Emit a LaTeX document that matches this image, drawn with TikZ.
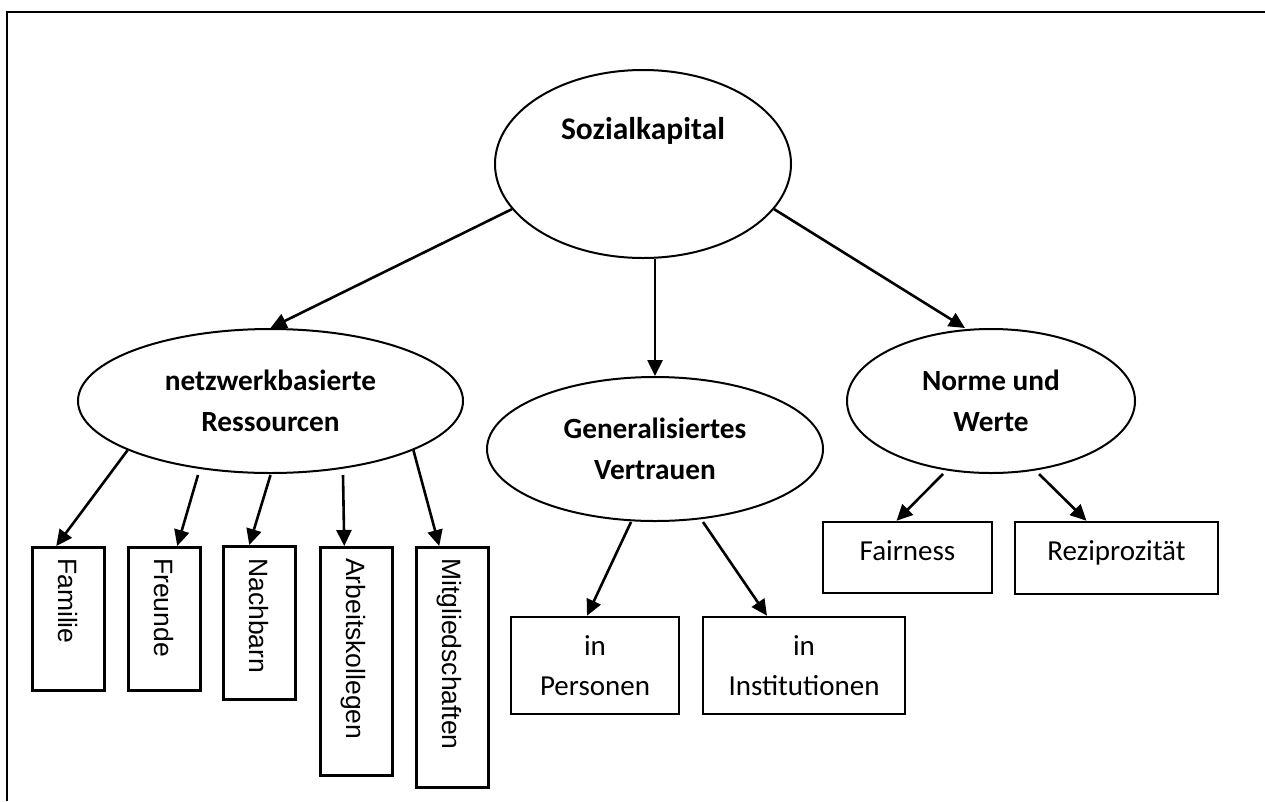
\documentclass[tikz,border=0pt]{standalone}
\usepackage{fontspec}
\setmainfont{Carlito}
\newfontfamily\rotfont{Liberation Sans}
\usetikzlibrary{shapes.geometric,arrows.meta,calc}
\begin{document}
\begin{tikzpicture}[x=1pt,y=-1pt,
  oval/.style={ellipse,draw,line width=2pt,inner sep=0pt,align=center,
    font=\bfseries\fontsize{29.3}{40.5}\selectfont},
  vbox/.style={draw,line width=2.5pt,inner sep=0pt,minimum width=72pt,anchor=north west},
  vtext/.style={rotate=-90,anchor=mid west,inner sep=0pt,font=\rotfont\fontsize{26.5}{30}\selectfont},
  hbox/.style={draw,line width=2.5pt,inner sep=0pt,align=center,
    font=\fontsize{29}{40}\selectfont},
  htext/.style={anchor=base,inner sep=0pt,font=\fontsize{29}{40}\selectfont},
  arr/.style={-{Triangle[length=16pt,width=15pt]},line width=2.6pt}]
\useasboundingbox (0,0) rectangle (1265,801);
% frame
\draw[line width=2.8pt] (7,801) -- (7,12) -- (1265,12);
% ellipses
\node[oval,minimum width=296pt,minimum height=188pt] (sk) at (643,164) {};
\node[anchor=base,inner sep=0pt,font=\bfseries\fontsize{31.5}{38}\selectfont] (skt) at (643,139) {Sozialkapital};
\node[oval,minimum width=385pt,minimum height=144pt] (net) at (270.5,401) {netzwerkbasierte\\Ressourcen};
\node[oval,minimum width=336pt,minimum height=144pt] (gv) at (655,449) {Generalisiertes\\Vertrauen};
\node[oval,minimum width=288pt,minimum height=144pt] (nw) at (991,401) {Norme und\\Werte};
% vertical boxes
\node[vbox,minimum height=143pt] (fam) at (31,546) {};
\node[vbox,minimum height=143pt] (fre) at (127,546) {};
\node[vbox,minimum height=153pt] (nach) at (222,545) {};
\node[vbox,minimum height=228pt] (arb) at (319,546) {};
\node[vbox,minimum height=240pt] (mit) at (415,546) {};
\node[vtext] (famt) at ([xshift=-7pt,yshift=-12pt]fam.north) {Familie};
\node[vtext] (fret) at ([xshift=-7pt,yshift=-12pt]fre.north) {Freunde};
\node[vtext] (nacht) at ([xshift=-7pt,yshift=-13pt]nach.north) {Nachbarn};
\node[vtext] (arbt) at ([xshift=-7pt,yshift=-12pt]arb.north) {Arbeitskollegen};
\node[vtext] (mitt) at ([xshift=-7pt,yshift=-12pt]mit.north) {Mitgliedschaften};
% horizontal boxes
\node[hbox,minimum width=168pt,minimum height=97pt] (per) at (595,665.5) {in\\Personen};
\node[hbox,minimum width=202pt,minimum height=97pt] (inst) at (804,665.5) {in\\Institutionen};
\node[hbox,minimum width=169pt,minimum height=71pt] (fair) at (907.5,557.5) {};
\node[hbox,minimum width=203pt,minimum height=72pt] (rez) at (1116.5,558) {};
\node[htext] (fairt) at (907.5,560) {Fairness};
\node[htext] (rezt) at (1116.5,560) {Reziprozität};
% connectors
\draw[arr] (sk.199) -- (net.north);
\draw[arr] (gv.north |- sk.south) -- (gv.north);
\draw[arr] (sk.-19) -- ([xshift=-26pt]nw.north);
\draw[arr] (net.199) -- ([xshift=-12pt]fam.north);
\draw[arr] ([xshift=-72.5pt,yshift=-1pt]net.south) -- ([xshift=13pt]fre.north);
\draw[arr] ([yshift=-1pt]net.south) -- ([xshift=-10pt]nach.north);
\draw[arr] ([xshift=72.5pt,yshift=-1pt]net.south) -- ([xshift=-12pt]arb.north);
\draw[arr] (net.-19) -- ([xshift=-13pt]mit.north);
\draw[arr] ([xshift=-24pt]gv.south) -- ([xshift=-8pt]per.north);
\draw[arr] ([xshift=48pt]gv.south) -- ([xshift=-37pt]inst.north);
\draw[arr] ([xshift=-48pt]nw.south) -- ([xshift=-11pt]fair.north);
\draw[arr] ([xshift=48pt]nw.south) -- ([xshift=-30pt]rez.north);
\end{tikzpicture}
\end{document}
